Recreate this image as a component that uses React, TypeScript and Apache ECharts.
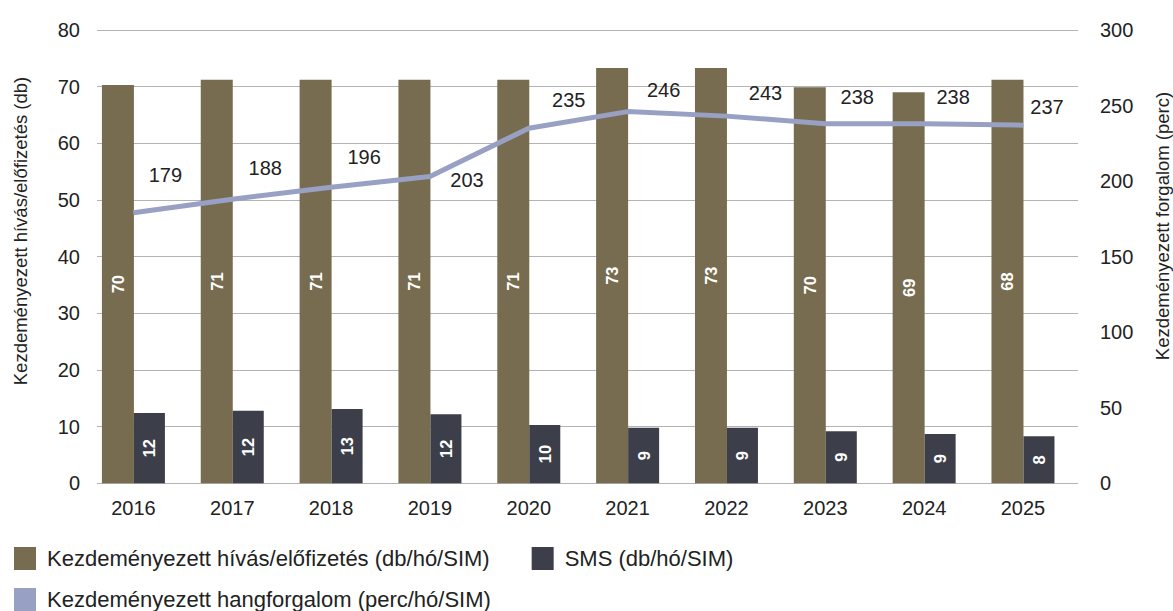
import React, { useEffect, useRef } from "react";
import * as echarts from "echarts";

const years = ["2016", "2017", "2018", "2019", "2020", "2021", "2022", "2023", "2024", "2025"];
// bar heights as drawn
const callValues = [70.3, 71.2, 71.2, 71.2, 71.2, 73.3, 73.3, 69.9, 69.0, 71.2];
// labels printed on the bars
const callLabels = ["70", "71", "71", "71", "71", "73", "73", "70", "69", "68"];
const smsValues = [12.4, 12.8, 13.1, 12.2, 10.3, 9.8, 9.8, 9.2, 8.7, 8.3];
const smsLabels = ["12", "12", "13", "12", "10", "9", "9", "9", "9", "8"];
const voiceValues = [179, 188, 196, 203, 235, 246, 243, 238, 238, 237];

const leftTicks = { min: 0, max: 80, interval: 10 };
const rightTicks = { min: 0, max: 300, interval: 50 };

const lineLabelOffsets: number[][] = [
  [32, -38], [33, -31], [33, -30], [37, 3], [40, -28],
  [36, -22], [39, -23], [32, -27], [29, -27], [24, -18],
];

const S_CALL = "Kezdeményezett hívás/előfizetés (db/hó/SIM)";
const S_SMS = "SMS (db/hó/SIM)";
const S_VOICE = "Kezdeményezett hangforgalom (perc/hó/SIM)";

const FONT = "'Liberation Sans', Arial, Helvetica, sans-serif";
const C_CALL = "#786c50";
const C_SMS = "#3c3f4a";
const C_VOICE = "#98a0c4";
const C_TEXT = "#222222";

export default function App() {
  const ref = useRef<HTMLDivElement>(null);
  useEffect(() => {
    if (!ref.current) return;
    const chart = echarts.init(ref.current, null, { renderer: "svg" });
    const top = 30;
    const bottom = 611 - 483.3;
    chart.setOption({
      animation: false,
      textStyle: { fontFamily: FONT, color: C_TEXT },
      grid: [
        { left: 84, right: 100.6, top, bottom },
        { left: 97, right: 95, top, bottom },
      ],
      xAxis: [
        {
          gridIndex: 0,
          type: "category",
          data: years,
          axisLine: { show: false },
          axisTick: { show: false },
          axisLabel: { color: C_TEXT, fontSize: 20, margin: 15, fontFamily: FONT },
        },
        { gridIndex: 1, type: "value", min: 0, max: 1, show: false },
      ],
      yAxis: [
        { gridIndex: 0, type: "value", ...leftTicks, show: false, splitLine: { show: false } },
        { gridIndex: 0, type: "value", ...rightTicks, show: false, splitLine: { show: false }, position: "right" },
        {
          gridIndex: 1,
          type: "value",
          ...leftTicks,
          position: "left",
          axisLine: { show: false },
          axisTick: { show: false },
          axisLabel: { color: C_TEXT, fontSize: 20, margin: 17, fontFamily: FONT },
          splitLine: { show: true, lineStyle: { color: "#b3b3b3", width: 1 } },
        },
        {
          gridIndex: 1,
          type: "value",
          ...rightTicks,
          position: "right",
          axisLine: { show: false },
          axisTick: { show: false },
          axisLabel: { color: C_TEXT, fontSize: 20, margin: 22, fontFamily: FONT },
          splitLine: { show: false },
        },
      ],
      legend: [
        {
          data: [S_CALL, S_SMS],
          left: 14,
          top: 547,
          padding: 0,
          icon: "rect",
          itemWidth: 22,
          itemHeight: 23,
          itemGap: 42,
          textStyle: { color: C_TEXT, fontSize: 22, fontFamily: FONT, padding: [0, 0, 0, 6] },
        },
        {
          data: [{ name: S_VOICE, icon: "rect", itemStyle: { color: C_VOICE } }],
          left: 14,
          top: 588,
          padding: 0,
          itemWidth: 22,
          itemHeight: 23,
          textStyle: { color: C_TEXT, fontSize: 22, fontFamily: FONT, padding: [0, 0, 0, 6] },
        },
      ],
      graphic: [
        {
          type: "text",
          x: 20,
          y: 231,
          rotation: Math.PI / 2,
          style: {
            text: "Kezdeményezett hívás/előfizetés (db)",
            fontSize: 18.5,
            fontFamily: FONT,
            fill: C_TEXT,
            align: "center",
            verticalAlign: "middle",
          },
        },
        {
          type: "text",
          x: 1162,
          y: 226,
          rotation: Math.PI / 2,
          style: {
            text: "Kezdeményezett forgalom (perc)",
            fontSize: 18.5,
            fontFamily: FONT,
            fill: C_TEXT,
            align: "center",
            verticalAlign: "middle",
          },
        },
      ],
      series: [
        {
          name: S_CALL,
          type: "bar",
          xAxisIndex: 0,
          yAxisIndex: 0,
          data: callValues,
          barWidth: 32,
          barGap: "0%",
          itemStyle: { color: C_CALL },
          label: {
            show: true,
            position: "inside",
            rotate: 90,
            color: "#ffffff",
            fontWeight: "bold",
            fontSize: 16.5,
            fontFamily: FONT,
            formatter: (p: any) => callLabels[p.dataIndex],
          },
        },
        {
          name: S_SMS,
          type: "bar",
          xAxisIndex: 0,
          yAxisIndex: 0,
          data: smsValues,
          barWidth: 31,
          barGap: "0%",
          itemStyle: { color: C_SMS },
          label: {
            show: true,
            position: "inside",
            rotate: 90,
            color: "#ffffff",
            fontWeight: "bold",
            fontSize: 16.5,
            fontFamily: FONT,
            formatter: (p: any) => smsLabels[p.dataIndex],
          },
        },
        {
          name: S_VOICE,
          type: "line",
          xAxisIndex: 0,
          yAxisIndex: 1,
          symbol: "circle",
          symbolSize: 1,
          z: 5,
          lineStyle: { color: C_VOICE, width: 5 },
          itemStyle: { color: C_VOICE },
          data: voiceValues.map((v, i) => ({
            value: v,
            label: { offset: lineLabelOffsets[i] },
          })),
          label: {
            show: true,
            position: "inside",
            color: C_TEXT,
            fontSize: 20,
            fontFamily: FONT,
          },
        },
      ],
    });
    return () => chart.dispose();
  }, []);
  return (
    <div
      ref={ref}
      style={{ position: "fixed", left: 0, top: 0, width: 1173, height: 611, background: "#ffffff" }}
    />
  );
}
